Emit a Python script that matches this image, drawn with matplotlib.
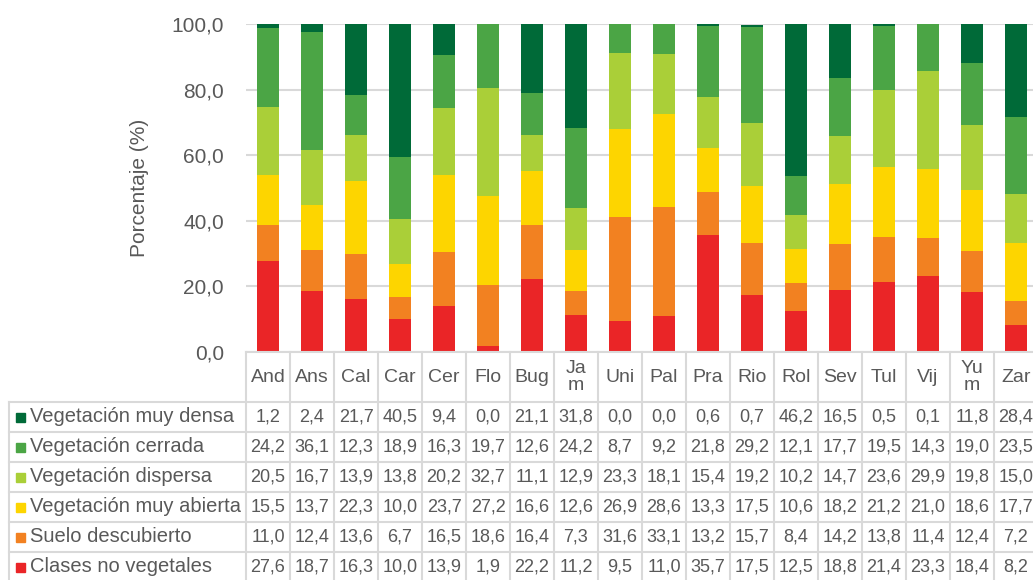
import matplotlib.pyplot as plt
from matplotlib.transforms import blended_transform_factory
from matplotlib.patches import Rectangle

plt.rcParams['font.family'] = ['Liberation Sans', 'DejaVu Sans']

sitios = ["And", "Ans", "Cal", "Car", "Cer", "Flo", "Bug", "Ja\nm", "Uni", "Pal",
          "Pra", "Rio", "Rol", "Sev", "Tul", "Vij", "Yu\nm", "Zar"]

muy_densa = [1.2, 2.4, 21.7, 40.5, 9.4, 0.0, 21.1, 31.8, 0.0, 0.0, 0.6, 0.7, 46.2, 16.5, 0.5, 0.1, 11.8, 28.4]
cerrada = [24.2, 36.1, 12.3, 18.9, 16.3, 19.7, 12.6, 24.2, 8.7, 9.2, 21.8, 29.2, 12.1, 17.7, 19.5, 14.3, 19.0, 23.5]
dispersa = [20.5, 16.7, 13.9, 13.8, 20.2, 32.7, 11.1, 12.9, 23.3, 18.1, 15.4, 19.2, 10.2, 14.7, 23.6, 29.9, 19.8, 15.0]
muy_abierta = [15.5, 13.7, 22.3, 10.0, 23.7, 27.2, 16.6, 12.6, 26.9, 28.6, 13.3, 17.5, 10.6, 18.2, 21.2, 21.0, 18.6, 17.7]
suelo = [11.0, 12.4, 13.6, 6.7, 16.5, 18.6, 16.4, 7.3, 31.6, 33.1, 13.2, 15.7, 8.4, 14.2, 13.8, 11.4, 12.4, 7.2]
no_veg = [27.6, 18.7, 16.3, 10.0, 13.9, 1.9, 22.2, 11.2, 9.5, 11.0, 35.7, 17.5, 12.5, 18.8, 21.4, 23.3, 18.4, 8.2]

# order of the table rows (top to bottom)
series = [("Vegetación muy densa", muy_densa, "#006a38"),
          ("Vegetación cerrada", cerrada, "#4ba545"),
          ("Vegetación dispersa", dispersa, "#aacf38"),
          ("Vegetación muy abierta", muy_abierta, "#fdd500"),
          ("Suelo descubierto", suelo, "#f28121"),
          ("Clases no vegetales", no_veg, "#ea2527")]

W, H = 1033, 580
fig = plt.figure(figsize=(W / 100, H / 100), dpi=100)
# plot area in pixels: x 246..1038, y 24..352 (from top)
ax = fig.add_axes([246 / W, 1 - 352 / H, (1038 - 246) / W, (352 - 24) / H])

txt = "#595959"
grid = "#d9d9d9"

x = list(range(len(sitios)))
bottom = [0.0] * len(sitios)
for name, vals, col in reversed(series):
    ax.bar(x, vals, 0.48, bottom=bottom, color=col, zorder=3)
    bottom = [b + v for b, v in zip(bottom, vals)]

ax.set_xlim(-0.5, len(sitios) - 0.5)
ax.set_ylim(0, 100)
ax.set_yticks([0, 20, 40, 60, 80, 100])
ax.set_yticklabels(["0,0", "20,0", "40,0", "60,0", "80,0", "100,0"], fontsize=15, color=txt)
ax.tick_params(axis="y", length=0, pad=16)
ax.set_xticks([])
ax.grid(axis="y", color=grid, linewidth=1.5, zorder=0)
for s in ax.spines.values():
    s.set_visible(False)
ax.set_ylabel("Porcentaje (%)", fontsize=15, color=txt, labelpad=16)

# table below the chart
tr = blended_transform_factory(ax.transData, fig.transFigure)
def fy(py):
    return 1 - py / H

row_top = 402
row_h = 30
n_rows = len(series)
table_bottom = row_top + n_rows * row_h

# horizontal lines
fig.add_artist(plt.Line2D([246 / W, 1038 / W], [fy(352), fy(352)], color=grid, lw=1.5))
for k in range(n_rows + 1):
    yy = fy(row_top + k * row_h)
    fig.add_artist(plt.Line2D([9 / W, 1038 / W], [yy, yy], color=grid, lw=1.5))
# vertical lines
for i in range(len(sitios) + 1):
    ax.add_line(plt.Line2D([i - 0.5, i - 0.5], [fy(352), fy(table_bottom)], color=grid, lw=1.5,
                           transform=tr, clip_on=False))
fig.add_artist(plt.Line2D([9 / W, 9 / W], [fy(row_top), fy(table_bottom)], color=grid, lw=1.5))

# header
for i, s in enumerate(sitios):
    ax.text(i, fy(377), s, transform=tr, ha="center", va="center", fontsize=14,
            color=txt, linespacing=1.05, clip_on=False)

# rows
for k, (name, vals, col) in enumerate(series):
    yc = fy(row_top + k * row_h + row_h / 2)
    fig.add_artist(Rectangle((16 / W, yc - 4.5 / H), 9 / W, 9 / H, color=col,
                             transform=fig.transFigure))
    fig.text(30 / W, yc, name, ha="left", va="center", fontsize=14.5, color=txt)
    for i, v in enumerate(vals):
        ax.text(i, yc, f"{v:.1f}".replace(".", ","), transform=tr, ha="center", va="center",
                fontsize=13, color=txt, clip_on=False)

fig.savefig("out.png", dpi=100)
